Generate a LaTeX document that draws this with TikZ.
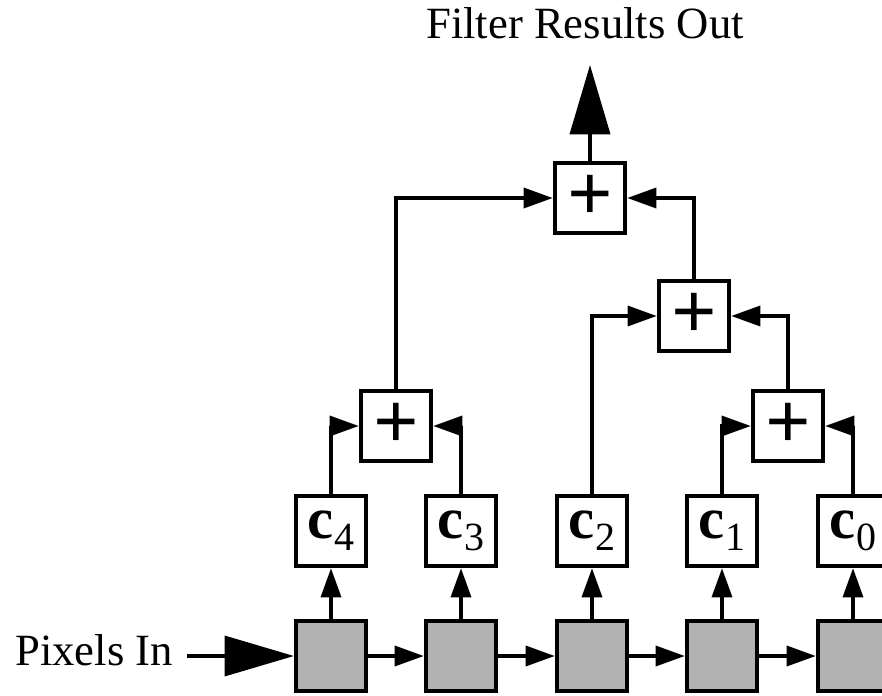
\documentclass[tikz,border=0pt]{standalone}
\usepackage{fontspec}
\setmainfont{Liberation Serif}
\usetikzlibrary{arrows.meta}
\tikzset{
  cell/.style={draw, line width=3.2pt, minimum size=52.5pt, inner sep=0pt},
  tap/.style={cell, fill=white},
  reg/.style={cell, fill=black!30},
  wire/.style={line width=2.8pt, -{Triangle[length=22pt,width=15pt]}},
  bigwire/.style={line width=2.8pt, -{Triangle[length=52pt,width=30pt]}},
  label/.style={font=\fontsize{33.5}{36}\selectfont, inner sep=0pt},
}
\newcommand{\coef}[1]{\fontsize{44}{44}\selectfont\textbf{c}\raisebox{-9pt}{\fontsize{30}{30}\selectfont #1}}
\newcommand{\plus}{\fontsize{60}{60}\selectfont\textbf{+}}

\begin{document}
\begin{tikzpicture}[x=0.75pt,y=-0.75pt]
        \useasboundingbox (0,0) rectangle (882,696);

        \node[reg] (g4) at (331,656) {};
        \node[reg] (g3) at (461,656) {};
        \node[reg] (g2) at (592,656) {};
        \node[reg] (g1) at (722,656) {};
        \node[reg] (g0) at (853,656) {};

        \node[tap] (c4) at (331,531) {\coef{4}};
        \node[tap] (c3) at (461,531) {\coef{3}};
        \node[tap] (c2) at (592,531) {\coef{2}};
        \node[tap] (c1) at (722,531) {\coef{1}};
        \node[tap] (c0) at (853,531) {\coef{0}};

        \node[tap] (p1) at (396,426) {\plus};
        \node[tap] (p2) at (788,426) {\plus};
        \node[tap] (p3) at (694,316) {\plus};
        \node[tap] (p4) at (590,198) {\plus};

        \node[label, anchor=base west] (pin) at (15,665) {Pixels In};
        \node[label, anchor=base] (pout) at (585,38) {Filter Results Out};
        \coordinate (src) at (187,656);
        \coordinate (dst) at (590,65);

        \draw[bigwire] (src) -- (g4.west);
        \draw[wire] (g4.east) -- (g3.west);
        \draw[wire] (g3.east) -- (g2.west);
        \draw[wire] (g2.east) -- (g1.west);
        \draw[wire] (g1.east) -- (g0.west);

        \draw[wire] (g4.north) -- (c4.south);
        \draw[wire] (g3.north) -- (c3.south);
        \draw[wire] (g2.north) -- (c2.south);
        \draw[wire] (g1.north) -- (c1.south);
        \draw[wire] (g0.north) -- (c0.south);

        \draw[wire] (c4.north) |- (p1.west);
        \draw[wire] (c3.north) |- (p1.east);
        \draw[wire] (c1.north) |- (p2.west);
        \draw[wire] (c0.north) |- (p2.east);

        \draw[wire] (c2.north) |- (p3.west);
        \draw[wire] (p2.north) |- (p3.east);

        \draw[wire] (p1.north) |- (p4.west);
        \draw[wire] (p3.north) |- (p4.east);

        \draw[bigwire] (p4.north) -- (dst);
    \end{tikzpicture}
\end{document}
